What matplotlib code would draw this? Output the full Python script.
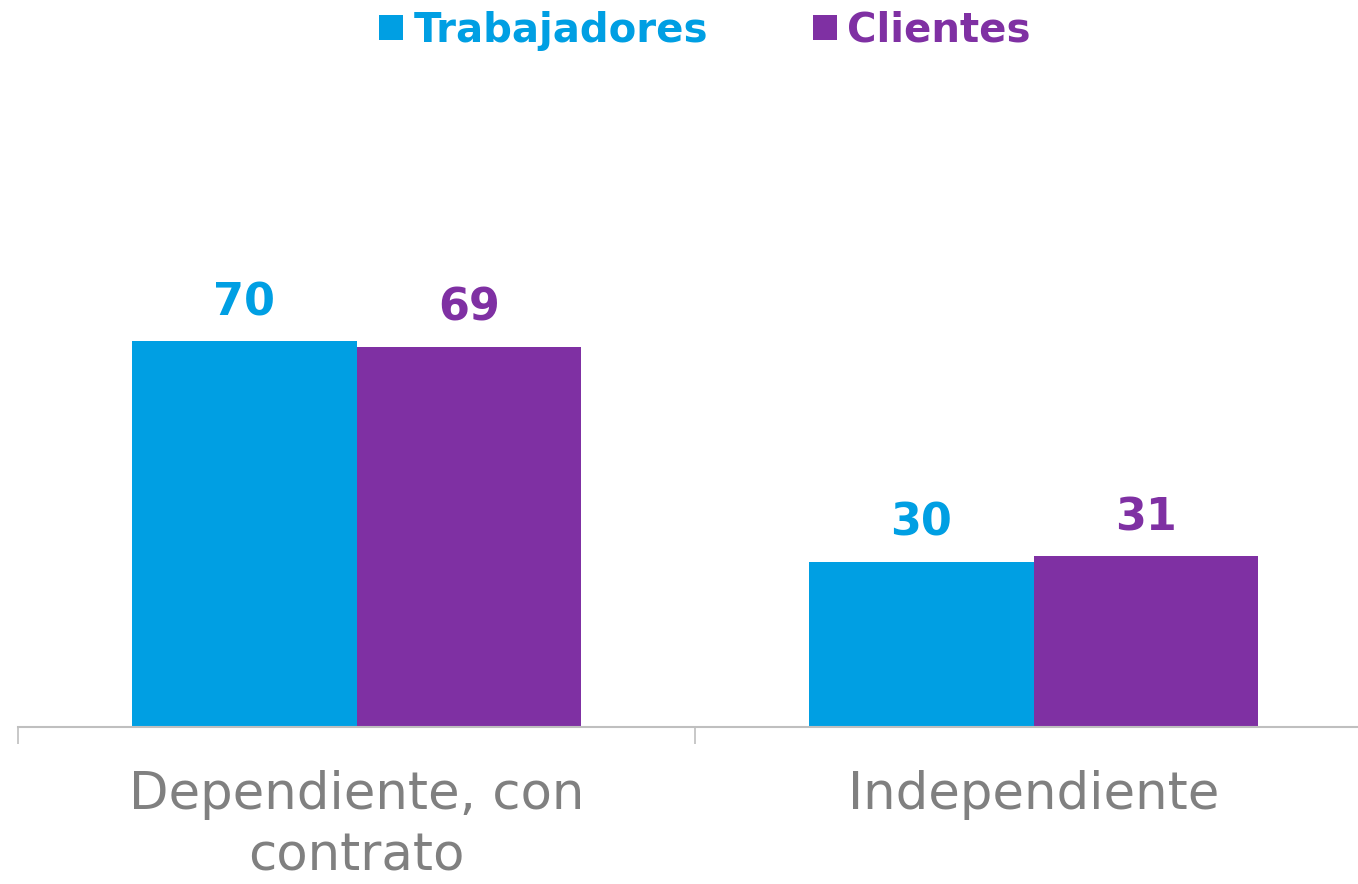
import numpy as np
import matplotlib.pyplot as plt
from matplotlib.ticker import FixedLocator

categories = ["Dependiente, con\ncontrato", "Independiente"]
series_names = ["Trabajadores", "Clientes"]
trabajadores = [70, 30]
clientes = [69, 31]

blue = "#009FE3"
purple = "#7F30A3"
gray_text = "#808080"
axis_gray = "#BFBFBF"

fig = plt.figure(figsize=(13.58, 8.84), dpi=100)
ax = fig.add_axes([18 / 1358, 1 - 727 / 884, 1354 / 1358, 727 / 884])

x = np.arange(len(categories))
width = 0.332
bars1 = ax.bar(x - width / 2, trabajadores, width, color=blue, label=series_names[0])
bars2 = ax.bar(x + width / 2, clientes, width, color=purple, label=series_names[1])

for bars, vals, col in [(bars1, trabajadores, blue), (bars2, clientes, purple)]:
    for b, v in zip(bars, vals):
        ax.annotate(f"{v}", (b.get_x() + b.get_width() / 2, v),
                    xytext=(0, 12), textcoords="offset points",
                    ha="center", va="bottom", fontsize=32,
                    fontweight="bold", color=col, family="DejaVu Sans")

ax.set_xlim(-0.5, 1.5)
ax.set_ylim(0, 727 / 5.514)

for side in ["top", "right", "left"]:
    ax.spines[side].set_visible(False)
ax.spines["bottom"].set_color(axis_gray)
ax.spines["bottom"].set_linewidth(1.5)
ax.set_yticks([])

ax.set_xticks(x)
ax.set_xticklabels(categories, fontsize=37, color=gray_text,
                   family="DejaVu Sans", fontweight="normal",
                   linespacing=1.3)
ax.tick_params(axis="x", which="major", length=0, pad=31)
ax.xaxis.set_minor_locator(FixedLocator([-0.5, 0.5, 1.5]))
ax.tick_params(axis="x", which="minor", length=12, width=1.2, color=axis_gray)

leg = fig.legend(handles=[bars1, bars2], labels=series_names,
                 loc="upper center", bbox_to_anchor=(0.519, 1.029), ncol=2,
                 frameon=False, prop={"size": 29, "weight": "bold", "family": "DejaVu Sans"},
                 handlelength=0.6, handleheight=0.6, handletextpad=0.25,
                 columnspacing=2.6)
for t, col in zip(leg.get_texts(), [blue, purple]):
    t.set_color(col)

fig.savefig("out.png", dpi=100)
